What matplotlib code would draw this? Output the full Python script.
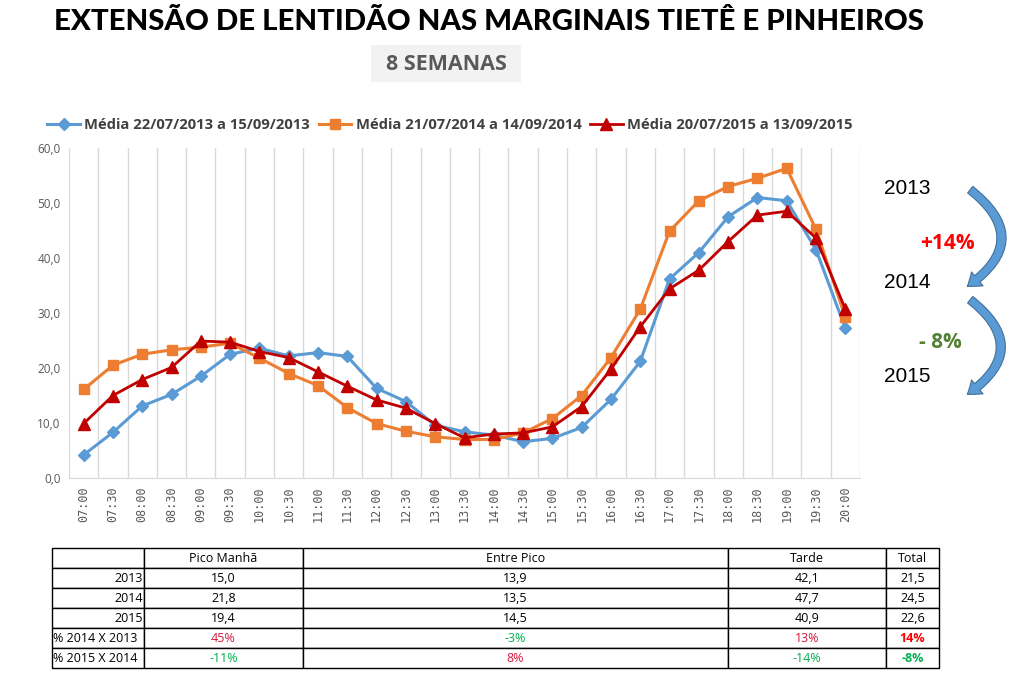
import numpy as np
import matplotlib
matplotlib.use("Agg")
import matplotlib.pyplot as plt
from matplotlib.patches import FancyArrowPatch, Rectangle

# data
horarios = ["07:00", "07:30", "08:00", "08:30", "09:00", "09:30", "10:00", "10:30",
            "11:00", "11:30", "12:00", "12:30", "13:00", "13:30", "14:00", "14:30",
            "15:00", "15:30", "16:00", "16:30", "17:00", "17:30", "18:00", "18:30",
            "19:00", "19:30", "20:00"]
media_2013 = [4.2, 8.3, 13.1, 15.2, 18.5, 22.5, 23.6, 22.2, 22.8, 22.1, 16.3, 13.9, 9.6,
              8.4, 7.8, 6.6, 7.2, 9.2, 14.3, 21.2, 36.2, 41.0, 47.5, 51.0, 50.4, 41.5, 27.2]
media_2014 = [16.1, 20.5, 22.5, 23.3, 23.8, 24.5, 21.8, 19.0, 16.8, 12.8, 9.9, 8.5, 7.5,
              7.0, 7.0, 8.2, 10.8, 15.0, 21.9, 30.7, 44.9, 50.4, 53.0, 54.5, 56.3, 45.2, 29.2]
media_2015 = [9.9, 15.0, 17.9, 20.1, 24.9, 24.7, 23.0, 21.9, 19.3, 16.7, 14.2, 12.7, 9.9,
              7.3, 8.0, 8.2, 9.3, 13.0, 19.8, 27.5, 34.4, 37.8, 43.0, 47.8, 48.5, 43.6, 30.7]
series_labels = ["Média 22/07/2013 a 15/09/2013", "Média 21/07/2014 a 14/09/2014",
                 "Média 20/07/2015 a 13/09/2015"]

col_labels = ["", "Pico Manhã", "Entre Pico", "Tarde", "Total"]
row_labels = ["2013", "2014", "2015", "% 2014 X 2013", "% 2015 X 2014"]
pico_manha = ["15,0", "21,8", "19,4", "45%", "-11%"]
entre_pico = ["13,9", "13,5", "14,5", "-3%", "8%"]
tarde = ["42,1", "47,7", "40,9", "13%", "-14%"]
total = ["21,5", "24,5", "22,6", "14%", "-8%"]

W, H = 1013, 687
fig = plt.figure(figsize=(W / 100, H / 100), dpi=100)
plt.rcParams['font.family'] = ['Open Sans', 'DejaVu Sans']


def fx(px):
    return px / W


def fy(py):
    return 1 - py / H


# titles
fig.text(fx(489), fy(22), "EXTENSÃO DE LENTIDÃO NAS MARGINAIS TIETÊ E PINHEIROS",
         ha="center", va="center", fontsize=21.2, fontweight="black", family="Lato", color="black")
fig.patches.append(Rectangle((fx(371), fy(82)), fx(150), 37 / H, transform=fig.transFigure,
                             facecolor="#F2F2F2", edgecolor="none"))
fig.text(fx(446), fy(64), "8 SEMANAS", ha="center", va="center", fontsize=15.5,
         fontweight="bold", color="#595959")

# line chart
ax = fig.add_axes([fx(69), fy(478), fx(860 - 69), (478 - 148) / H])
x = np.arange(len(horarios))
ax.plot(x, media_2013, color="#5B9BD5", lw=2.2, marker="D", ms=6, label=series_labels[0])
ax.plot(x, media_2014, color="#ED7D31", lw=2.2, marker="s", ms=7, label=series_labels[1])
ax.plot(x, media_2015, color="#C00000", lw=2.0, marker="^", ms=8, label=series_labels[2])
ax.set_xlim(-0.5, len(horarios) - 0.5)
ax.set_ylim(0, 60)
ax.set_yticks(np.arange(0, 61, 10))
ax.set_yticklabels([f"{v:.1f}".replace(".", ",") for v in np.arange(0, 61, 10)],
                   fontsize=8.5, color="#595959")
ax.set_xticks(x)
ax.set_xticklabels(horarios, rotation=90, fontsize=8.5, color="#595959", family="DejaVu Sans Mono")
ax.set_xticks(np.arange(-0.5, len(horarios)), minor=True)
ax.grid(which="minor", axis="x", color="#D9D9D9", lw=1)
ax.tick_params(which="both", length=0, pad=6)
for s in ["top", "left", "right"]:
    ax.spines[s].set_visible(False)
ax.spines["bottom"].set_color("#D9D9D9")
leg = fig.legend(loc="center", bbox_to_anchor=(fx(450), fy(125)), ncol=3, frameon=False,
                 handlelength=2.2, columnspacing=0.6, handletextpad=0.3,
                 prop={"weight": "bold", "size": 10.6})
for t in leg.get_texts():
    t.set_color("#404040")

# side annotations
for ano, yy in [("2013", 189), ("2014", 283), ("2015", 376)]:
    fig.text(fx(884), fy(yy), ano, fontsize=15, va="center", family="Liberation Sans")
fig.text(fx(920), fy(243), "+14%", fontsize=15, va="center", fontweight="bold", color="#FF0000")
fig.text(fx(919), fy(343), "- 8%", fontsize=15, va="center", fontweight="bold", color="#548235")
for y0, y1 in [(188, 288), (298, 396)]:
    arr = FancyArrowPatch((fx(968), fy(y0)), (fx(965), fy(y1)), transform=fig.transFigure,
                          connectionstyle="arc3,rad=-0.7",
                          arrowstyle="simple,head_length=9,head_width=13,tail_width=6",
                          facecolor="#5B9BD5", edgecolor="#41719C", lw=0.8)
    fig.patches.append(arr)

# table
tax = fig.add_axes([fx(52), fy(668), fx(939 - 52), (668 - 548) / H])
tax.axis("off")
col_w = np.array([92, 159, 425, 158, 53], dtype=float)
col_w = col_w / col_w.sum()
cells = [col_labels] + [[row_labels[i], pico_manha[i], entre_pico[i], tarde[i], total[i]]
                        for i in range(len(row_labels))]
tbl = tax.table(cellText=cells, colWidths=list(col_w), loc="center", bbox=[0, 0, 1, 1])
tbl.auto_set_font_size(False)
red, green = "#D6183C", "#00B050"
for (r, c), cell in tbl.get_celld().items():
    cell.set_linewidth(1)
    cell.set_edgecolor("black")
    txt = cell.get_text()
    txt.set_fontsize(9)
    txt.set_family("Open Sans")
    if c == 0:
        cell.set_text_props(ha="right" if 1 <= r <= 3 else "left")
        cell.PAD = 0.01
    else:
        cell.set_text_props(ha="center")
    if r >= 4 and c > 0:
        val = txt.get_text()
        txt.set_color(green if val.startswith("-") else red)
        if c == 4:
            txt.set_fontweight("bold")
            txt.set_color(green if val.startswith("-") else "#FF0000")

fig.savefig("out.png", dpi=100)
